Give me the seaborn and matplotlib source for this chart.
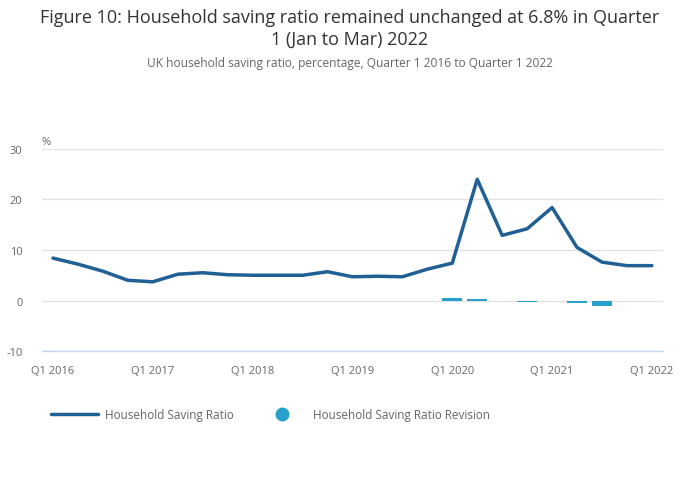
import matplotlib
matplotlib.use("Agg")
import matplotlib.pyplot as plt
from matplotlib.lines import Line2D
import seaborn as sns
import pandas as pd

quarters = [f"Q{q} {y}" for y in range(2016, 2023) for q in range(1, 5)][:25]
saving_ratio = [8.4, 7.2, 5.8, 4.0, 3.7, 5.2, 5.5, 5.1, 5.0, 5.0, 5.0, 5.7,
                4.7, 4.8, 4.7, 6.2, 7.4, 24.0, 12.9, 14.2, 18.4, 10.5, 7.6, 6.9, 6.9]
rev_quarters = ["Q1 2020", "Q2 2020", "Q4 2020", "Q2 2021", "Q3 2021"]
revisions = [0.5, 0.3, -0.2, -0.4, -1.1]
tick_labels = ["Q1 2016", "Q1 2017", "Q1 2018", "Q1 2019", "Q1 2020", "Q1 2021", "Q1 2022"]

sns.set_style("white")
plt.rcParams['font.family'] = ['Open Sans', 'DejaVu Sans']

line_color = "#206095"
bar_color = "#27a0cc"

fig = plt.figure(figsize=(7, 5.02), dpi=100)
ax = fig.add_axes([0.06, 0.2988, 0.887, 0.4024])

df_line = pd.DataFrame({"quarter": quarters, "value": saving_ratio})
df_line["pos"] = range(len(quarters))
df_rev = pd.DataFrame({"quarter": rev_quarters, "value": revisions})

sns.barplot(data=df_rev, x="quarter", y="value", order=quarters, color=bar_color,
            width=0.8, saturation=1, linewidth=0, edgecolor=bar_color, ax=ax)
for p in ax.patches:
    p.set_zorder(3)
    p.set_linewidth(0)
sns.lineplot(data=df_line, x="pos", y="value", color=line_color, linewidth=2.5,
             ax=ax, zorder=4)

ax.set_ylim(-10, 30)
ax.set_xlim(-0.44, 24.44)
ax.set_yticks([-10, 0, 10, 20, 30])
ax.set_yticklabels(["-10", "0", "10", "20", "30"])
ax.set_xticks([quarters.index(t) for t in tick_labels])
ax.set_xticklabels(tick_labels)
ax.set_xlabel("")
ax.set_ylabel("")
ax.grid(axis="y", color="#e2e2e2", linewidth=1)
ax.set_axisbelow(True)
for s in ["top", "right", "left"]:
    ax.spines[s].set_visible(False)
ax.spines["bottom"].set_color("#c4d4ea")
ax.spines["bottom"].set_linewidth(1)
ax.tick_params(axis="x", colors="#c4d4ea", length=8, width=1, direction="out",
               labelcolor="#666666", labelsize=8, pad=2)
ax.tick_params(axis="y", length=0, labelcolor="#666666", labelsize=8, pad=14)

fig.text(41 / 700, 1 - 143 / 502, "%", fontsize=8, color="#666666",
         ha="left", va="center")

fig.text(0.5, 1 - 18 / 502, "Figure 10: Household saving ratio remained unchanged at 6.8% in Quarter",
         ha="center", va="center", fontsize=13.0, color="#333333")
fig.text(0.5, 1 - 40 / 502, "1 (Jan to Mar) 2022",
         ha="center", va="center", fontsize=13.0, color="#333333")
fig.text(0.5, 1 - 64 / 502, "UK household saving ratio, percentage, Quarter 1 2016 to Quarter 1 2022",
         ha="center", va="center", fontsize=8.6, color="#666666")

handles = [Line2D([0], [0], color=line_color, linewidth=2.5),
           Line2D([0], [0], marker="o", linestyle="none", markersize=9,
                  markerfacecolor=bar_color, markeredgecolor=bar_color)]
leg = fig.legend(handles, ["Household Saving Ratio", "Household Saving Ratio Revision"],
                 loc="center left", bbox_to_anchor=(40 / 700, 1 - 416 / 502), ncol=2,
                 frameon=False, fontsize=8.5, handlelength=4.0, handletextpad=0.6,
                 columnspacing=2.1, labelcolor="#666666")

fig.savefig("out.png", dpi=100)
